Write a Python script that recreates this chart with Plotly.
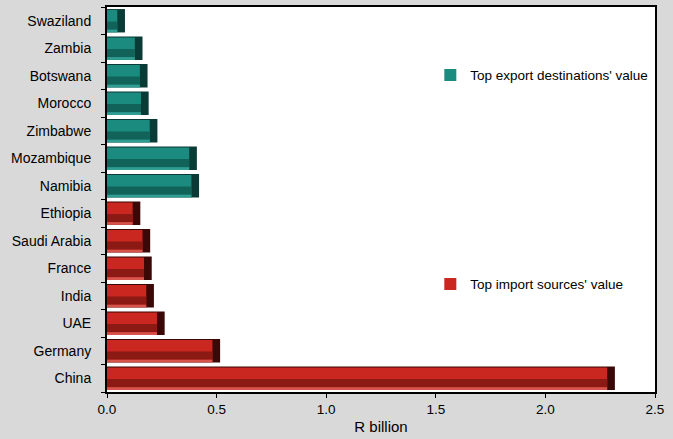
import plotly.graph_objects as go

export_countries = ["Swaziland", "Zambia", "Botswana", "Morocco", "Zimbabwe", "Mozambique", "Namibia"]
export_values = [0.082, 0.162, 0.185, 0.19, 0.23, 0.41, 0.42]
import_countries = ["Ethiopia", "Saudi Arabia", "France", "India", "UAE", "Germany", "China"]
import_values = [0.152, 0.197, 0.204, 0.214, 0.263, 0.516, 2.317]
x_ticks = [0.0, 0.5, 1.0, 1.5, 2.0, 2.5]
x_tick_labels = ["0.0", "0.5", "1.0", "1.5", "2.0", "2.5"]

order_top_to_bottom = export_countries + import_countries
order_bottom_to_top = order_top_to_bottom[::-1]

FONT = "Liberation Sans, Arial, sans-serif"
END = 0.035  # dark bevel at bar end (styling)

fig = go.Figure()

def add_bevel_bar(cats, vals, dark, main, band, bottom, name, legend):
    inner = [max(v - END, 0) for v in vals]
    # dark end layer (full length)
    fig.add_trace(go.Bar(y=cats, x=vals, orientation="h", width=0.85, offset=-0.425,
                         marker=dict(color=dark, line=dict(width=0)),
                         showlegend=False, hoverinfo="skip"))
    # main face (carries legend)
    fig.add_trace(go.Bar(y=cats, x=inner, orientation="h", width=0.78, offset=-0.39,
                         marker=dict(color=main, line=dict(width=0)),
                         name=name, legend=legend, showlegend=True, hoverinfo="skip"))
    # darker lower band
    fig.add_trace(go.Bar(y=cats, x=inner, orientation="h", width=0.3, offset=-0.33,
                         marker=dict(color=band, line=dict(width=0)), showlegend=False, hoverinfo="skip"))
    # lighter bottom strip
    fig.add_trace(go.Bar(y=cats, x=inner, orientation="h", width=0.1, offset=-0.425,
                         marker=dict(color=bottom, line=dict(width=0)), showlegend=False, hoverinfo="skip"))

add_bevel_bar(export_countries, export_values, "#0a3b36", "#1b8a7f", "#116259", "#2f9d92",
              "Top export destinations' value", "legend")
add_bevel_bar(import_countries, import_values, "#3a0806", "#c9271f", "#8c1a14", "#d7544c",
              "Top import sources' value", "legend2")

fig.update_layout(
    width=673, height=439,
    barmode="overlay",
    paper_bgcolor="#d9d9d9",
    plot_bgcolor="#ffffff",
    margin=dict(l=107, r=18, t=7, b=47, autoexpand=False),
    font=dict(family=FONT, size=13, color="#000000"),
    legend=dict(x=0.59, y=0.823, xanchor="left", yanchor="middle", bgcolor="rgba(0,0,0,0)",
                font=dict(family=FONT, size=13.5), itemwidth=30),
    legend2=dict(x=0.59, y=0.28, xanchor="left", yanchor="middle", bgcolor="rgba(0,0,0,0)",
                 font=dict(family=FONT, size=13.5), itemwidth=30),
    xaxis=dict(range=[0, 2.5], tickvals=x_ticks, ticktext=x_tick_labels, showgrid=False,
               zeroline=False, showline=True, linecolor="#000000", linewidth=2, mirror=True,
               ticks="outside", ticklen=4, tickcolor="#000000", automargin=False,
               tickfont=dict(family=FONT, size=13.5),
               title=dict(text="R billion", standoff=5, font=dict(family=FONT, size=15))),
    yaxis=dict(type="category", categoryorder="array", categoryarray=order_bottom_to_top,
               range=[-0.5, len(order_bottom_to_top) - 0.5], showgrid=False, zeroline=False,
               showline=True, linecolor="#000000", linewidth=2, mirror=True, automargin=False,
               ticks="outside", ticklen=4, tickcolor="#000000", tickson="boundaries",
               tickfont=dict(family=FONT, size=14), ticklabelstandoff=11),
)

fig.write_html("out.html", config={"displayModeBar": False},
               post_script="document.body.style.margin='0';")
